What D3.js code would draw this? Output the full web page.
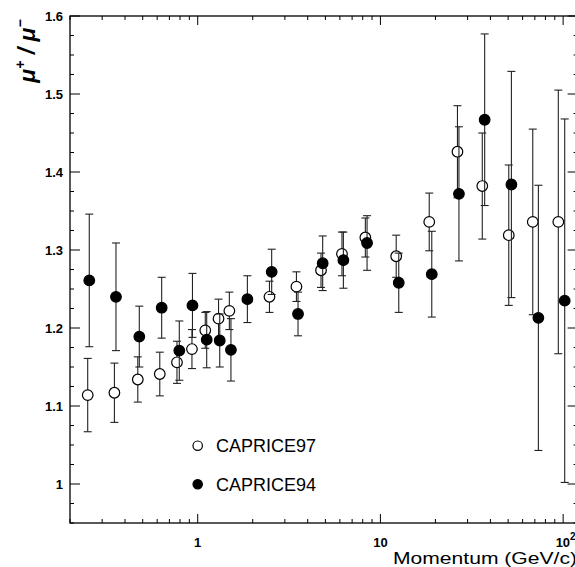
<!DOCTYPE html>
<html>
<head>
<meta charset="utf-8">
<script src="https://cdn.jsdelivr.net/npm/d3@7"></script>
<style>
  body { margin: 0; background: white; }
  svg { display: block; }
</style>
</head>
<body>
<div id="chart"></div>
<script>
// CAPRICE97 (open circles)
var momentum97 = [0.25, 0.35, 0.47, 0.62, 0.77, 0.93, 1.10, 1.30, 1.49, 2.47, 3.47, 4.73, 6.16, 8.27, 12.2, 18.5, 26.4, 36.1, 50.4, 68.2, 94.1];
var ratio97    = [1.114, 1.117, 1.134, 1.141, 1.156, 1.173, 1.197, 1.212, 1.222, 1.240, 1.253, 1.274, 1.295, 1.316, 1.292, 1.336, 1.426, 1.382, 1.319, 1.336, 1.336];
var err97      = [0.047, 0.038, 0.029, 0.028, 0.027, 0.025, 0.023, 0.025, 0.024, 0.020, 0.019, 0.022, 0.028, 0.025, 0.027, 0.037, 0.059, 0.068, 0.090, 0.119, 0.169];

// CAPRICE94 (filled circles)
var momentum94 = [0.255, 0.357, 0.479, 0.635, 0.793, 0.936, 1.12, 1.32, 1.52, 1.87, 2.54, 3.54, 4.83, 6.27, 8.45, 12.6, 19.1, 26.9, 37.2, 52.1, 73.2, 102];
var ratio94    = [1.261, 1.240, 1.189, 1.226, 1.171, 1.229, 1.185, 1.184, 1.172, 1.237, 1.272, 1.218, 1.283, 1.287, 1.309, 1.258, 1.269, 1.372, 1.467, 1.384, 1.213, 1.235];
var err94      = [0.085, 0.069, 0.039, 0.039, 0.038, 0.041, 0.036, 0.034, 0.040, 0.030, 0.029, 0.028, 0.035, 0.036, 0.035, 0.038, 0.055, 0.086, 0.110, 0.145, 0.170, 0.233];

var yTickLabels = ["1", "1.1", "1.2", "1.3", "1.4", "1.5", "1.6"];
var xTickLabels = ["1", "10"];
var seriesNames = ["CAPRICE97", "CAPRICE94"];

var w = 575, h = 567;
var plotLeft = 70, plotTop = 16, plotRight = 577.6, plotBottom = 523;
var capHalf = 4;   // half-width of error bar caps
var r = 5.3;       // marker radius

var x = d3.scaleLog().domain([0.2, 120]).range([plotLeft, plotRight]);
var y = d3.scaleLinear().domain([0.95, 1.6]).range([plotBottom, plotTop]);

var svg = d3.select('#chart').append('svg')
  .attr('width', w)
  .attr('height', h)
  .attr('font-family', "'Liberation Sans', Arial, Helvetica, sans-serif");

// frame
svg.append('rect')
  .attr('x', plotLeft).attr('y', plotTop)
  .attr('width', plotRight - plotLeft).attr('height', plotBottom - plotTop)
  .attr('fill', 'none').attr('stroke', 'black').attr('stroke-width', 1.3);

// y ticks, every 0.025, major every 0.1
var yTicks = d3.range(0, 27).map(function(i) { return 0.95 + i * 0.025; });
var yt = svg.append('g').attr('stroke', 'black').attr('stroke-width', 1);
yTicks.forEach(function(v, i) {
  var major = (i % 4 == 2);
  var len = major ? 10 : 4;
  yt.append('line').attr('x1', plotLeft).attr('x2', plotLeft + len).attr('y1', y(v)).attr('y2', y(v));
  yt.append('line').attr('x1', plotRight).attr('x2', plotRight - len).attr('y1', y(v)).attr('y2', y(v));
});

// x ticks (log)
var xTicks = [];
[0.1, 1, 10, 100].forEach(function(dec) {
  for (var k = 1; k < 10; k++) {
    var v = dec * k;
    if (v >= 0.2 && v <= 120) xTicks.push({ v: v, major: k == 1 });
  }
});
var xt = svg.append('g').attr('stroke', 'black').attr('stroke-width', 1);
xTicks.forEach(function(t) {
  var len = t.major ? 9 : 4;
  xt.append('line').attr('x1', x(t.v)).attr('x2', x(t.v)).attr('y1', plotBottom).attr('y2', plotBottom - len);
  xt.append('line').attr('x1', x(t.v)).attr('x2', x(t.v)).attr('y1', plotTop).attr('y2', plotTop + len);
});

// y tick labels
svg.append('g').selectAll('text')
  .data(yTickLabels)
  .enter().append('text')
  .attr('x', 63)
  .attr('y', function(d) { return y(+d) + 4.5; })
  .attr('text-anchor', 'end')
  .attr('font-size', 13)
  .attr('font-weight', 'bold')
  .text(function(d) { return d; });

// x tick labels
svg.append('g').selectAll('text')
  .data(xTickLabels)
  .enter().append('text')
  .attr('x', function(d) { return x(+d); })
  .attr('y', 547)
  .attr('text-anchor', 'middle')
  .attr('font-size', 13)
  .attr('font-weight', 'bold')
  .text(function(d) { return d; });

var t100 = svg.append('text')
  .attr('x', x(100) - 7.5)
  .attr('y', 547)
  .attr('font-size', 13)
  .attr('font-weight', 'bold');
t100.append('tspan').text('10');
t100.append('tspan').attr('font-size', 10).attr('dy', -7).text('2');

// axis titles
svg.append('text')
  .attr('x', 393)
  .attr('y', 564)
  .attr('font-size', 17)
  .attr('textLength', 184)
  .attr('lengthAdjust', 'spacingAndGlyphs')
  .text('Momentum (GeV/c)');

var yl = svg.append('text')
  .attr('transform', 'translate(35,51) rotate(-90)')
  .attr('text-anchor', 'middle')
  .attr('font-size', 23)
  .attr('font-weight', 'bold')
  .attr('font-style', 'italic');
yl.append('tspan').text('\u03bc');
yl.append('tspan').attr('font-size', 14).attr('dy', -10).text('+');
yl.append('tspan').attr('dy', 10).text(' / \u03bc');
yl.append('tspan').attr('font-size', 14).attr('dy', -10).text('\u2212');

// series
function drawSeries(px, py, pe, filled) {
  var g = svg.append('g');
  var data = px.map(function(d, i) { return { p: d, r: py[i], e: pe[i] }; });

  var bars = g.selectAll('.bar').data(data).enter().append('g')
    .attr('class', 'bar')
    .attr('stroke', '#222').attr('stroke-width', 1.1);
  bars.append('line')
    .attr('x1', function(d) { return x(d.p); }).attr('x2', function(d) { return x(d.p); })
    .attr('y1', function(d) { return y(d.r - d.e); }).attr('y2', function(d) { return y(d.r + d.e); });
  bars.append('line')
    .attr('x1', function(d) { return x(d.p) - capHalf; }).attr('x2', function(d) { return x(d.p) + capHalf; })
    .attr('y1', function(d) { return y(d.r + d.e); }).attr('y2', function(d) { return y(d.r + d.e); });
  bars.append('line')
    .attr('x1', function(d) { return x(d.p) - capHalf; }).attr('x2', function(d) { return x(d.p) + capHalf; })
    .attr('y1', function(d) { return y(d.r - d.e); }).attr('y2', function(d) { return y(d.r - d.e); });

  g.selectAll('circle').data(data).enter().append('circle')
    .attr('cx', function(d) { return x(d.p); })
    .attr('cy', function(d) { return y(d.r); })
    .attr('r', r)
    .attr('fill', filled ? 'black' : 'white')
    .attr('stroke', 'black')
    .attr('stroke-width', 1.2);
}

drawSeries(momentum97, ratio97, err97, false);
drawSeries(momentum94, ratio94, err94, true);

// legend
var legend = svg.append('g');
seriesNames.forEach(function(name, i) {
  var ly = 445.7 + i * 38.6;
  legend.append('circle')
    .attr('cx', 197.7).attr('cy', ly).attr('r', 4.7)
    .attr('fill', i == 0 ? 'white' : 'black')
    .attr('stroke', 'black').attr('stroke-width', 1.2);
  legend.append('text')
    .attr('x', 216).attr('y', ly + 6.5)
    .attr('font-size', 18)
    .text(name);
});
</script>
</body>
</html>
